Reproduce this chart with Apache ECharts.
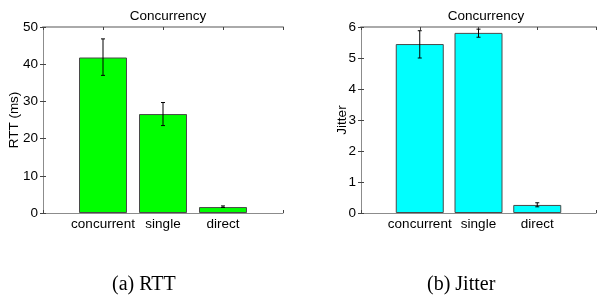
<!DOCTYPE html>
<html>
<head>
<meta charset="utf-8">
<script src="https://cdn.jsdelivr.net/npm/echarts@6/dist/echarts.min.js"></script>
<style>
  html, body { margin: 0; padding: 0; background: #fff; }
  #container { width: 599px; height: 299px; }
</style>
</head>
<body>
<div id="container"></div>
<script>
const categories = ['concurrent', 'single', 'direct'];

const rttMean = [41.8, 26.6, 1.6];
const rttLow = [37.0, 23.5, 1.5];
const rttHigh = [46.8, 29.7, 1.9];

const jitterMean = [5.45, 5.81, 0.26];
const jitterLow = [5.0, 5.67, 0.2];
const jitterHigh = [5.88, 5.93, 0.33];

const rttTicks = [0, 10, 20, 30, 40, 50];
const jitterTicks = [0, 1, 2, 3, 4, 5, 6];

const frameColor = '#8c8c8c';
const labelFont = 'Liberation Sans, Arial, sans-serif';

const myChart = echarts.init(document.getElementById('container'));

// bars sit at x = 1, 2, 3 on a 0..4 axis, like matlab's bar()
const toPoints = (vals) => vals.map((v, i) => [i + 1, v]);
const toErr = (lo, hi) => lo.map((l, i) => [i + 1, l, hi[i]]);

function errorBar(params, api) {
    const x = api.value(0);
    const lo = api.coord([x, api.value(1)]);
    const hi = api.coord([x, api.value(2)]);
    const cap = 2;
    const style = { stroke: '#000', lineWidth: 1 };
    return {
        type: 'group',
        children: [
            { type: 'line', shape: { x1: lo[0], y1: lo[1], x2: hi[0], y2: hi[1] }, style },
            { type: 'line', shape: { x1: lo[0] - cap, y1: lo[1], x2: lo[0] + cap, y2: lo[1] }, style },
            { type: 'line', shape: { x1: hi[0] - cap, y1: hi[1], x2: hi[0] + cap, y2: hi[1] }, style }
        ]
    };
}

function xAxes(gridIndex) {
    const base = {
        type: 'value',
        gridIndex: gridIndex,
        min: 0,
        max: 4,
        interval: 1,
        splitLine: { show: false },
        axisLine: { show: true, onZero: false, lineStyle: { color: frameColor, width: 1 } },
        axisTick: { show: true, inside: true, length: 3, lineStyle: { color: '#444' } }
    };
    return [
        Object.assign({}, base, {
            position: 'bottom',
            axisLabel: {
                color: '#000',
                fontSize: 13.5,
                fontFamily: labelFont,
                margin: 4,
                formatter: (v) => categories[v - 1] || ''
            }
        }),
        Object.assign({}, base, {
            position: 'top',
            axisLabel: { show: false },
            axisLine: { show: true, onZero: false, lineStyle: { color: '#aaa', width: 2 } }
        })
    ];
}

function yAxes(gridIndex, ticks, name, gap) {
    const base = {
        type: 'value',
        gridIndex: gridIndex,
        min: ticks[0],
        max: ticks[ticks.length - 1],
        interval: ticks[1] - ticks[0],
        splitLine: { show: false },
        axisLine: { show: true, lineStyle: { color: frameColor, width: 1 } },
        axisTick: { show: true, inside: true, length: 3, lineStyle: { color: '#444' } }
    };
    return [
        Object.assign({}, base, {
            position: 'left',
            name: name,
            nameLocation: 'middle',
            nameGap: gap,
            nameMoveOverlap: false,
            nameTextStyle: { color: '#000', fontSize: 13.5, fontFamily: labelFont },
            axisLabel: { color: '#000', fontSize: 13.5, fontFamily: labelFont, margin: 5 }
        }),
        Object.assign({}, base, {
            position: 'right',
            axisLabel: { show: false }
        })
    ];
}

const option = {
    animation: false,
    backgroundColor: '#fff',
    title: [
        {
            text: 'Concurrency', left: 163, top: 4, textAlign: 'center',
            textStyle: { fontSize: 13.5, fontWeight: 'normal', color: '#000', fontFamily: labelFont }
        },
        {
            text: 'Concurrency', left: 481, top: 4, textAlign: 'center',
            textStyle: { fontSize: 13.5, fontWeight: 'normal', color: '#000', fontFamily: labelFont }
        }
    ],
    graphic: [
        {
            type: 'text', left: 112, top: 275,
            style: { text: '(a) RTT', fontSize: 20, fontFamily: 'Liberation Serif, serif', fill: '#000' }
        },
        {
            type: 'text', left: 427, top: 275,
            style: { text: '(b) Jitter', fontSize: 20, fontFamily: 'Liberation Serif, serif', fill: '#000' }
        }
    ],
    grid: [
        { left: 43, top: 27, width: 240, height: 186 },
        { left: 361, top: 27, width: 240, height: 186 }
    ],
    xAxis: [].concat(xAxes(0), xAxes(1)),
    yAxis: [].concat(yAxes(0, rttTicks, 'RTT (ms)', 22), yAxes(1, jitterTicks, 'Jitter', 12)),
    series: [
        {
            name: 'RTT',
            type: 'bar',
            xAxisIndex: 0,
            yAxisIndex: 0,
            barWidth: 48,
            itemStyle: { color: '#00ff00', borderColor: '#4a4a4a', borderWidth: 1 },
            data: toPoints(rttMean)
        },
        {
            name: 'RTT error',
            type: 'custom',
            xAxisIndex: 0,
            yAxisIndex: 0,
            renderItem: errorBar,
            encode: { x: 0, y: [1, 2] },
            data: toErr(rttLow, rttHigh),
            z: 10
        },
        {
            name: 'Jitter',
            type: 'bar',
            xAxisIndex: 2,
            yAxisIndex: 2,
            barWidth: 48,
            itemStyle: { color: '#00ffff', borderColor: '#4a4a4a', borderWidth: 1 },
            data: toPoints(jitterMean)
        },
        {
            name: 'Jitter error',
            type: 'custom',
            xAxisIndex: 2,
            yAxisIndex: 2,
            renderItem: errorBar,
            encode: { x: 0, y: [1, 2] },
            data: toErr(jitterLow, jitterHigh),
            z: 10
        }
    ]
};
myChart.setOption(option);
window.addEventListener('resize', () => {
    myChart.resize()
})
</script>
</body>
</html>
